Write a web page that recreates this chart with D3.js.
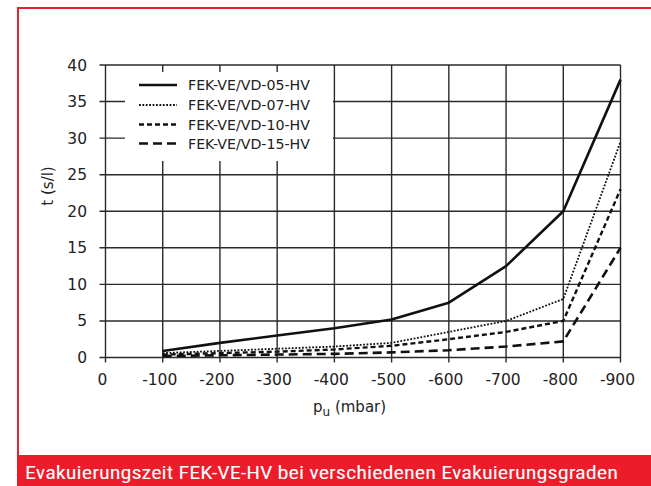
<!DOCTYPE html>
<html>
<head>
<meta charset="utf-8">
<script src="https://cdn.jsdelivr.net/npm/d3@7"></script>
<style>
html,body{margin:0;padding:0;background:#fff;}
svg{display:block;}
</style>
</head>
<body>
<svg id="chart" width="651" height="486"></svg>
<script>
const xValues = [-100, -200, -300, -400, -500, -600, -700, -800, -900];
const xTicks = [0, -100, -200, -300, -400, -500, -600, -700, -800, -900];
const yTicks = [0, 5, 10, 15, 20, 25, 30, 35, 40];
const seriesNames = ["FEK-VE/VD-05-HV", "FEK-VE/VD-07-HV", "FEK-VE/VD-10-HV", "FEK-VE/VD-15-HV"];
const fek05 = [0.9, 2.0, 3.0, 4.0, 5.2, 7.5, 12.5, 20.0, 38.0];
const fek07 = [0.6, 0.9, 1.2, 1.5, 2.0, 3.5, 5.0, 8.0, 29.5];
const fek10 = [0.4, 0.6, 0.8, 1.1, 1.6, 2.5, 3.5, 5.0, 23.0];
const fek15 = [0.2, 0.3, 0.4, 0.5, 0.7, 1.0, 1.5, 2.2, 15.0];
const captionText = "Evakuierungszeit FEK-VE-HV bei verschiedenen Evakuierungsgraden";

(function () {
const series = [
  {name: seriesNames[0], values: fek05, dash: null, width: 2.6},
  {name: seriesNames[1], values: fek07, dash: "1.8,1.6", width: 1.8},
  {name: seriesNames[2], values: fek10, dash: "5,3", width: 2.4},
  {name: seriesNames[3], values: fek15, dash: "9,5", width: 2.6}
];

const svg = d3.select("#chart");
const pLeft = 105.5, pRight = 620.5, pTop = 65, pBottom = 357.5;
const x = d3.scaleLinear().domain([0, -900]).range([pLeft, pRight]);
const y = d3.scaleLinear().domain([0, 40]).range([pBottom, pTop]);
const font = "'DejaVu Sans', Verdana, sans-serif";
const gridColor = "#2a2a2a";

// red frame
svg.append("rect").attr("x", 18).attr("y", 8).attr("width", 640).attr("height", 460)
  .attr("fill", "none").attr("stroke", "#e8202f").attr("stroke-width", 2);
svg.append("rect").attr("x", 17).attr("y", 455).attr("width", 634).attr("height", 31)
  .attr("fill", "#ed1c2b");
svg.append("text").attr("x", 25).attr("y", 479)
  .attr("font-family", "'Liberation Sans Narrow', 'Roboto Condensed', 'Liberation Sans', Arial, sans-serif")
  .attr("font-size", 19).attr("fill", "#fff")
  .attr("textLength", 593).attr("lengthAdjust", "spacingAndGlyphs")
  .text(captionText);

// horizontal gridlines with outside ticks
const g = svg.append("g");
g.selectAll("line.h").data(yTicks).join("line")
  .attr("x1", pLeft - 6).attr("x2", pRight)
  .attr("y1", d => y(d)).attr("y2", d => y(d))
  .attr("stroke", gridColor).attr("stroke-width", 1.4);
// vertical gridlines with outside ticks
g.selectAll("line.v").data(xTicks).join("line")
  .attr("x1", d => x(d)).attr("x2", d => x(d))
  .attr("y1", pTop).attr("y2", pBottom + 5)
  .attr("stroke", gridColor).attr("stroke-width", 1.4);

// y tick labels
svg.append("g").selectAll("text").data(yTicks).join("text")
  .attr("x", 87).attr("y", d => y(d) + 5.5)
  .attr("text-anchor", "end").attr("font-family", font).attr("font-size", 15.5).attr("fill", "#222")
  .text(d => d);
// x tick labels
svg.append("g").selectAll("text").data(xTicks).join("text")
  .attr("x", d => x(d) - 3).attr("y", 385)
  .attr("text-anchor", "middle").attr("font-family", font).attr("font-size", 15.5).attr("fill", "#222")
  .text(d => d);

// axis titles
svg.append("text")
  .attr("transform", "translate(53,186) rotate(-90)")
  .attr("text-anchor", "middle").attr("font-family", font).attr("font-size", 15).attr("fill", "#222")
  .text("t (s/l)");
const xt = svg.append("text").attr("x", 313).attr("y", 412)
  .attr("font-family", font).attr("font-size", 15).attr("fill", "#222");
xt.append("tspan").text("p");
xt.append("tspan").attr("dy", 4).attr("font-size", 12).text("u");
xt.append("tspan").attr("dy", -4).text(" (mbar)");

// legend background
svg.append("rect").attr("x", 125).attr("y", 72).attr("width", 208).attr("height", 89).attr("fill", "#fff");

// series lines
const line = d3.line().x((d, i) => x(xValues[i])).y(d => y(d));
svg.append("g").selectAll("path").data(series).join("path")
  .attr("d", d => line(d.values))
  .attr("fill", "none").attr("stroke", "#111")
  .attr("stroke-width", d => d.width)
  .attr("stroke-dasharray", d => d.dash)
  .attr("stroke-linejoin", "round");

// legend
const legY = [85, 105, 124.5, 143.5];
const leg = svg.append("g").selectAll("g").data(series).join("g")
  .attr("transform", (d, i) => `translate(0,${legY[i]})`);
leg.append("line").attr("x1", 139).attr("x2", 177).attr("y1", 0).attr("y2", 0)
  .attr("stroke", "#111").attr("stroke-width", d => d.width).attr("stroke-dasharray", d => d.dash);
leg.append("text").attr("x", 188).attr("y", 5)
  .attr("font-family", font).attr("font-size", 14.2).attr("fill", "#222")
  .text(d => d.name);
})();
</script>
</body>
</html>
